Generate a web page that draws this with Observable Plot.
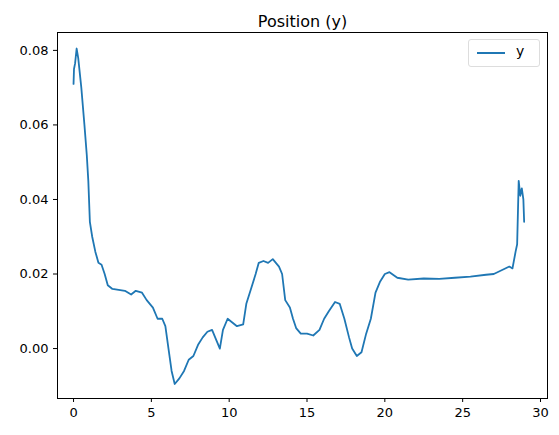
<!DOCTYPE html>
<html><head>
<script src="https://cdn.jsdelivr.net/npm/d3@7"></script>
<script src="https://cdn.jsdelivr.net/npm/@observablehq/plot@0.6"></script>
<style>
body{margin:0;background:#fff;font-family:"DejaVu Sans",sans-serif}
#wrap{position:relative;width:559px;height:435px}
#legend{position:absolute;left:468px;top:39px;width:70px;height:26px;border:1px solid #ddd;border-radius:3px;background:#fff;font-size:14px}
#legend span.l{position:absolute;left:8px;top:12px;width:28px;border-top:2px solid #1f77b4}
#legend span.t{position:absolute;left:47px;top:3px}
</style>
</head><body>
<div id="wrap"><div id="legend"><span class="l"></span><span class="t">y</span></div></div>
<script>
const times = [0, 0.03, 0.1, 0.2, 0.3, 0.5, 0.7, 0.85, 0.95, 1.05, 1.2, 1.4, 1.6, 1.8, 2.0, 2.2, 2.5, 3.0, 3.3, 3.7, 4.0, 4.4, 4.7, 5.1, 5.4, 5.7, 5.9, 6.1, 6.3, 6.5, 6.8, 7.1, 7.4, 7.7, 8.0, 8.3, 8.6, 8.9, 9.2, 9.4, 9.6, 9.9, 10.2, 10.5, 10.9, 11.1, 11.4, 11.7, 11.9, 12.2, 12.5, 12.8, 13.2, 13.4, 13.6, 13.9, 14.1, 14.3, 14.6, 15.0, 15.4, 15.8, 16.1, 16.4, 16.8, 17.1, 17.4, 17.7, 17.9, 18.2, 18.5, 18.8, 19.1, 19.4, 19.7, 20.0, 20.3, 20.8, 21.5, 22.5, 23.5, 24.5, 25.5, 26.5, 27.0, 27.5, 28.0, 28.2, 28.4, 28.5, 28.6, 28.7, 28.8, 28.9, 28.95];
const yvals = [0.071, 0.075, 0.0765, 0.0805, 0.078, 0.07, 0.06, 0.052, 0.045, 0.034, 0.030, 0.026, 0.023, 0.0225, 0.020, 0.017, 0.016, 0.0157, 0.0155, 0.0145, 0.0155, 0.015, 0.013, 0.011, 0.008, 0.008, 0.006, 0.0, -0.006, -0.0095, -0.008, -0.006, -0.003, -0.002, 0.001, 0.003, 0.0045, 0.005, 0.002, 0.0, 0.005, 0.008, 0.007, 0.006, 0.0065, 0.012, 0.016, 0.020, 0.023, 0.0235, 0.023, 0.024, 0.022, 0.020, 0.013, 0.011, 0.008, 0.0055, 0.004, 0.004, 0.0035, 0.005, 0.008, 0.010, 0.0125, 0.012, 0.008, 0.003, 0.0, -0.002, -0.001, 0.004, 0.008, 0.015, 0.018, 0.020, 0.0205, 0.019, 0.0185, 0.0188, 0.0187, 0.019, 0.0193, 0.0198, 0.020, 0.021, 0.022, 0.0215, 0.026, 0.028, 0.045, 0.041, 0.043, 0.040, 0.034];
const xTicks = [0, 5, 10, 15, 20, 25, 30];
const yTicks = [0.00, 0.02, 0.04, 0.06, 0.08];
const data = times.map((t, i) => ({t, y: yvals[i]}));

const plot = Plot.plot({
  width: 559, height: 435,
  marginLeft: 57, marginRight: 12, marginTop: 32, marginBottom: 37,
  style: {fontFamily: "DejaVu Sans", fontSize: "13px", color: "#000"},
  x: {domain: [-1.03, 30.45], ticks: xTicks, tickFormat: d => d, tickSize: 4, label: null},
  y: {domain: [-0.0134, 0.0848], ticks: yTicks, tickFormat: d3.format(".2f"), tickSize: 4, label: null},
  marks: [
    Plot.frame({stroke: "#000"}),
    Plot.line(data, {x: "t", y: "y", stroke: "#1f77b4", strokeWidth: 1.8}),
    Plot.text(["Position (y)"], {frameAnchor: "top", dy: -17, fontSize: 16, fill: "#000"})
  ]
});
document.getElementById("wrap").prepend(plot);
</script>
</body></html>
